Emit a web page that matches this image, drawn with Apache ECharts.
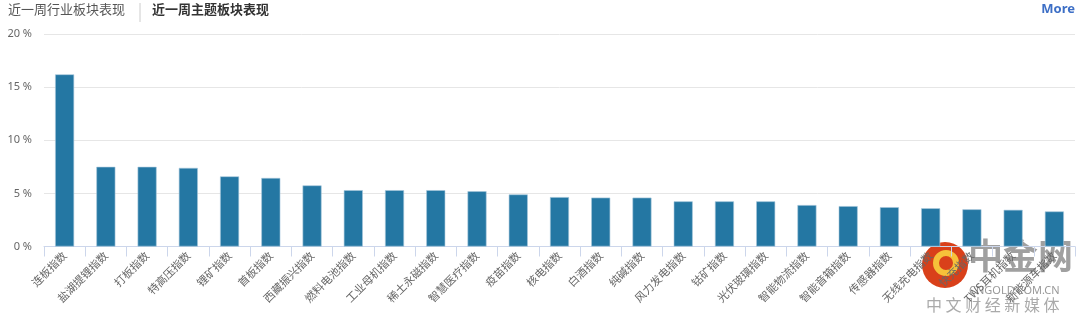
<!DOCTYPE html>
<html><head><meta charset="utf-8">
<script src="https://cdn.jsdelivr.net/npm/echarts@6/dist/echarts.min.js"></script>
<style>html,body{margin:0;padding:0;background:#fff}#c{width:1080px;height:316px}</style>
</head><body><div id="c"></div>
<script>
const categories = ["连板指数","盐湖提锂指数","打板指数","特高压指数","锂矿指数","首板指数","西藏振兴指数","燃料电池指数","工业母机指数","稀土永磁指数","智慧医疗指数","疫苗指数","核电指数","白酒指数","纯碱指数","风力发电指数","钴矿指数","光伏玻璃指数","智能物流指数","智能音箱指数","传感器指数","无线充电指数","快充指数","TWS耳机指数","新能源车指数"];
const values = [16.2,7.5,7.5,7.4,6.6,6.45,5.75,5.3,5.3,5.3,5.2,4.9,4.65,4.6,4.6,4.25,4.25,4.25,3.9,3.8,3.7,3.6,3.5,3.45,3.3];
const yTicks = [0,5,10,15,20];
const tabs = ["近一周行业板块表现","近一周主题板块表现"];
const moreLabel = "More";

const chart = echarts.init(document.getElementById('c'));
const F = '"Noto Sans CJK SC","Noto Sans",sans-serif';
chart.setOption({
  animation:false,
  textStyle:{fontFamily:F},
  grid:{left:44,right:5,top:34,bottom:69.5,containLabel:false},
  xAxis:{type:'category',data:categories,
    axisLine:{lineStyle:{color:'#ccd6eb',width:1}},
    axisTick:{show:true,length:10,lineStyle:{color:'#ccd6eb'}},
    axisLabel:{rotate:45,color:'#666',fontSize:11,margin:7,interval:0,fontFamily:F}},
  yAxis:{type:'value',min:yTicks[0],max:yTicks[yTicks.length-1],interval:5,
    axisLine:{show:false},axisTick:{show:false},
    splitLine:{lineStyle:{color:'#e6e6e6'}},
    axisLabel:{formatter:v=>v+' %',color:'#666',fontSize:11,margin:12,fontFamily:'"Noto Sans",sans-serif'}},
  series:[{type:'bar',data:values,barWidth:19,
    itemStyle:{color:'#2477a3',borderColor:'#a8c8dc',borderWidth:0.6}}],
  graphic:[
    {type:'text',left:8,top:3,style:{text:tabs[0],fill:'#555',font:'13px '+F}},
    {type:'line',shape:{x1:140,y1:3,x2:140,y2:22},style:{stroke:'#ccc',lineWidth:1}},
    {type:'text',left:152,top:3,style:{text:tabs[1],fill:'#333',font:'bold 13px '+F}},
    {type:'text',right:5,top:3,style:{text:moreLabel,fill:'#3d6fc6',font:'bold 13px "Noto Sans",sans-serif'}},
    {type:'group',x:922,y:242,z:100,children:[
      {type:'circle',shape:{cx:23,cy:23,r:23},style:{fill:'#d9401a'}},
      {type:'circle',shape:{cx:24,cy:21,r:10},style:{fill:'none',stroke:'#f6c13a',lineWidth:6}},
      {type:'text',x:46,y:-4,style:{text:'中金网',fill:'#a0a0a0',font:'bold 35px '+F}},
      {type:'text',x:47,y:43,style:{text:'CNGOLD.COM.CN',fill:'#999',font:'11px "Noto Sans",sans-serif'}},
      {type:'text',x:4,y:55,style:{text:'中 文 财 经 新 媒 体',fill:'#aaa',font:'16px '+F}}
    ]}
  ]
});
</script></body></html>
